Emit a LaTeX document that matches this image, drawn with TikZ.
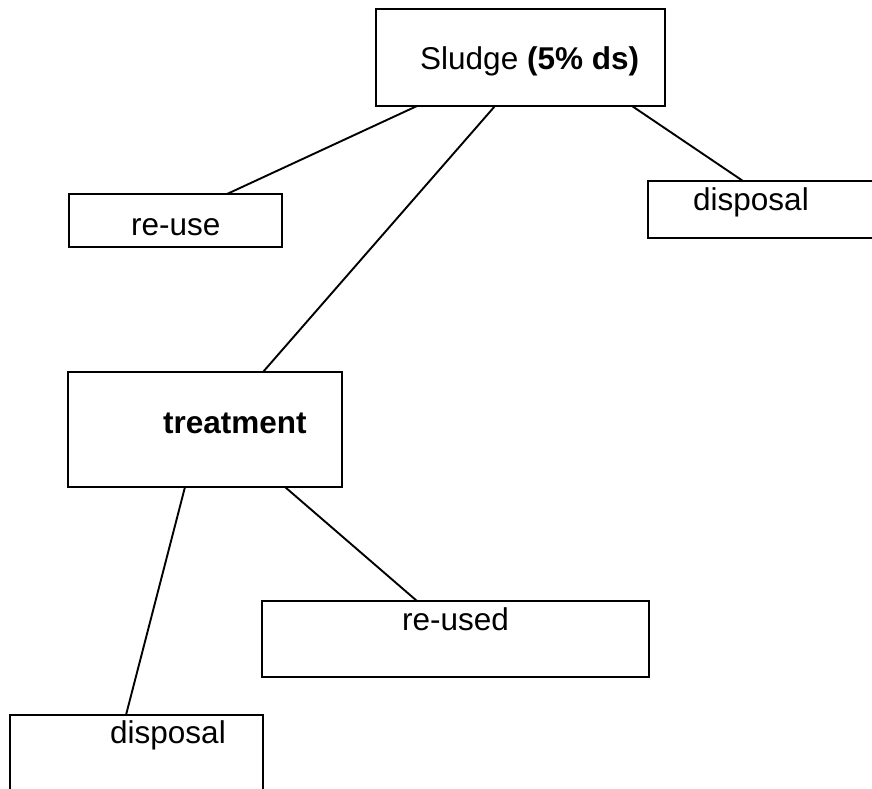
\documentclass[tikz,border=0pt]{standalone}
\usepackage{fontspec}
\setmainfont{Liberation Sans}
\begin{document}
\begin{tikzpicture}[x=1pt,y=-1pt,
  box/.style={draw=black,line width=1.9pt,rectangle,inner sep=0pt,outer sep=0pt},
  lbl/.style={anchor=base west,inner sep=0pt,font=\fontsize{31.5}{36}\selectfont},
  conn/.style={draw=black,line width=1.9pt}]
\clip (0,0) rectangle (872,789);
\fill[white] (0,0) rectangle (872,789);
% boxes
\node[box,minimum width=289pt,minimum height=97pt] (sludge) at (520.5,57.5) {};
\node[box,minimum width=213pt,minimum height=53pt] (reuse) at (175.5,220.5) {};
\node[box,minimum width=260pt,minimum height=57pt] (disp1) at (778,209.5) {};
\node[box,minimum width=274pt,minimum height=115pt] (treat) at (205,429.5) {};
\node[box,minimum width=387pt,minimum height=76pt] (reused) at (455.5,639) {};
\node[box,minimum width=253pt,minimum height=110pt] (disp2) at (136.5,770) {};
% texts
\node[lbl] (tsludge) at (420,70) {Sludge \textbf{(5\% ds)}};
\node[lbl] (treuse) at (131,235) {re-use};
\node[lbl] (tdisp1) at (693,210) {disposal};
\node[lbl] (ttreat) at (163,433) {\textbf{treatment}};
\node[lbl] (treused) at (402,630) {re-used};
\node[lbl] (tdisp2) at (110,743) {disposal};
% connectors
\draw[conn] ([xshift=41pt]sludge.south west) -- ([xshift=158pt]reuse.north west);
\draw[conn] ([xshift=119pt]sludge.south west) -- ([xshift=195pt]treat.north west);
\draw[conn] ([xshift=256pt]sludge.south west) -- ([xshift=95pt]disp1.north west);
\draw[conn] ([xshift=117pt]treat.south west) -- ([xshift=116pt]disp2.north west);
\draw[conn] ([xshift=217pt]treat.south west) -- ([xshift=155pt]reused.north west);
\end{tikzpicture}
\end{document}
